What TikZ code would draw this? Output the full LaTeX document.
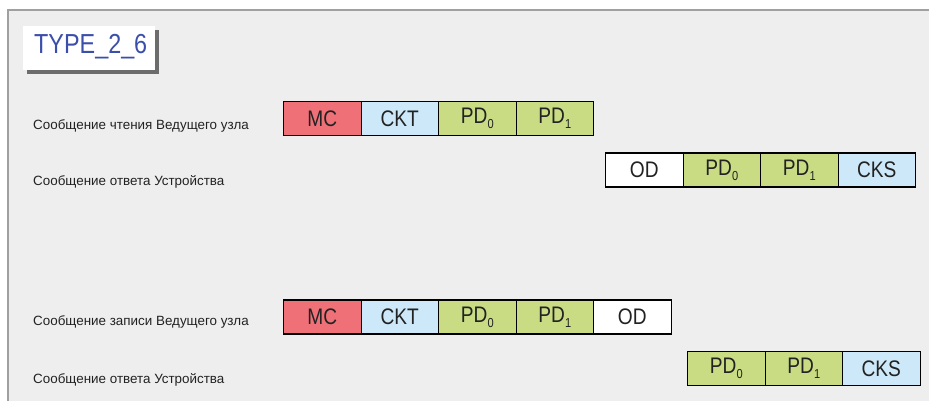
\documentclass[tikz,border=0pt]{standalone}
\usepackage{fontspec}
\setmainfont[FakeStretch=0.85]{Liberation Sans}
\newfontfamily\labelfont{Liberation Sans}
\newcommand\psub[1]{\raisebox{-0.45ex}{\fontsize{13}{13}\selectfont #1}}
\definecolor{bgray}{HTML}{EEEEEE}
\definecolor{framegray}{HTML}{A0A0A0}
\definecolor{mcred}{HTML}{F07078}
\definecolor{ckblue}{HTML}{CDE8F8}
\definecolor{pdgreen}{HTML}{C9DC84}
\definecolor{titleblue}{HTML}{3B4FAA}
\definecolor{txt}{HTML}{222222}
\tikzset{
  field/.style={draw=black, line width=1.1pt, minimum width=77.5pt, minimum height=34pt,
    inner sep=0pt, anchor=west, font=\fontsize{22.5}{24}\selectfont, text=txt},
  mcf/.style={field, fill=mcred},
  ckf/.style={field, fill=ckblue},
  pdf/.style={field, fill=pdgreen},
  odf/.style={field, fill=white},
  rowlabel/.style={anchor=west, inner sep=0pt, font=\labelfont\fontsize{13.4}{15}\selectfont, text=txt}
}
\begin{document}
\begin{tikzpicture}[x=1pt,y=-1pt]
\useasboundingbox (0,0) rectangle (929,401);
\fill[white] (0,0) rectangle (929,401);
\fill[bgray] (8,10) rectangle (929,401);
\draw[framegray, line width=1.5pt] (8,401) -- (8,10) -- (929,10);
% title
\fill[gray!85!black] (27,30) rectangle (159,74);
\node[fill=white, minimum width=132pt, minimum height=44pt, anchor=north west, inner sep=0pt] (title) at (23,26) {};
\node[anchor=west, inner sep=0pt, text=titleblue, font=\fontsize{27.5}{28}\selectfont] (titletext) at (34,47) {TYPE\_2\_6};
% labels
\node[rowlabel] (l1) at (33,126) {Сообщение чтения Ведущего узла};
\node[rowlabel] (l2) at (33,182) {Сообщение ответа Устройства};
\node[rowlabel] (l3) at (33,322) {Сообщение записи Ведущего узла};
\node[rowlabel] (l4) at (33,380) {Сообщение ответа Устройства};
% row 1
\node[mcf] (a1) at (283,118.5) {MC};
\node[ckf] (a2) at (360.5,118.5) {CKT};
\node[pdf] (a3) at (438,118.5) {PD\psub{0}};
\node[pdf] (a4) at (515.5,118.5) {PD\psub{1}};
% row 2
\node[odf] (b1) at (605,170) {OD};
\node[pdf] (b2) at (682.5,170) {PD\psub{0}};
\node[pdf] (b3) at (760,170) {PD\psub{1}};
\node[ckf] (b4) at (837.5,170) {CKS};
% row 3
\node[mcf] (c1) at (283,317) {MC};
\node[ckf] (c2) at (360.5,317) {CKT};
\node[pdf] (c3) at (438,317) {PD\psub{0}};
\node[pdf] (c4) at (515.5,317) {PD\psub{1}};
\node[odf] (c5) at (593,317) {OD};
% row 4
\node[pdf] (d1) at (687,368.5) {PD\psub{0}};
\node[pdf] (d2) at (764.5,368.5) {PD\psub{1}};
\node[ckf] (d3) at (842,368.5) {CKS};
\end{tikzpicture}
\end{document}
